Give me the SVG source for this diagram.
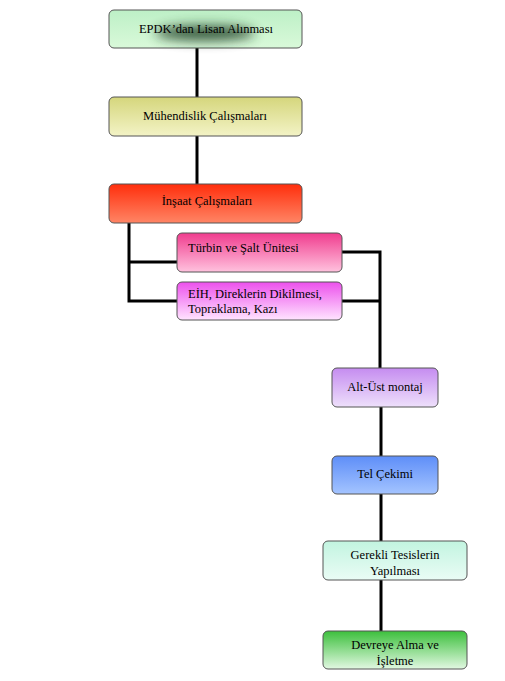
<svg xmlns="http://www.w3.org/2000/svg" width="505" height="681" viewBox="0 0 505 681">
<defs>
<linearGradient id="g1" x1="0" y1="0" x2="0" y2="1"><stop offset="0" stop-color="#bdf0c6"/><stop offset="1" stop-color="#d9f9d9"/></linearGradient>
<linearGradient id="g2" x1="0" y1="0" x2="0" y2="1"><stop offset="0" stop-color="#d5d67c"/><stop offset="1" stop-color="#f3f3c6"/></linearGradient>
<linearGradient id="g3" x1="0" y1="0" x2="0" y2="1"><stop offset="0" stop-color="#ff2e0c"/><stop offset="1" stop-color="#ff8565"/></linearGradient>
<linearGradient id="g4" x1="0" y1="0" x2="0" y2="1"><stop offset="0" stop-color="#f03c8e"/><stop offset="1" stop-color="#ffc2de"/></linearGradient>
<linearGradient id="g5" x1="0" y1="0" x2="0" y2="1"><stop offset="0" stop-color="#ec50ec"/><stop offset="1" stop-color="#ffe4ff"/></linearGradient>
<linearGradient id="g6" x1="0" y1="0" x2="0" y2="1"><stop offset="0" stop-color="#c58cf0"/><stop offset="1" stop-color="#eee0fb"/></linearGradient>
<linearGradient id="g7" x1="0" y1="0" x2="0" y2="1"><stop offset="0" stop-color="#5e8ef8"/><stop offset="1" stop-color="#a4c4ff"/></linearGradient>
<linearGradient id="g8" x1="0" y1="0" x2="0" y2="1"><stop offset="0" stop-color="#c2f4e0"/><stop offset="1" stop-color="#eafcf5"/></linearGradient>
<linearGradient id="g9" x1="0" y1="0" x2="0" y2="1"><stop offset="0" stop-color="#3cbf3c"/><stop offset="1" stop-color="#e2f8e2"/></linearGradient>
<filter id="blur" x="-50%" y="-100%" width="200%" height="300%"><feGaussianBlur stdDeviation="6"/></filter>
</defs>
<style>
.box{stroke:#555;stroke-width:1}
.t{font-family:"Liberation Serif","Times New Roman","DejaVu Serif",serif;font-size:12.5px;fill:#000}
.c{text-anchor:middle}
.conn{stroke:#000;stroke-width:3;fill:none}
</style>
<g id="connectors">
<path class="conn" d="M197,48 V97"/>
<path class="conn" d="M197,136 V185"/>
<path class="conn" d="M129,223 V301 H177"/>
<path class="conn" d="M129,262 H177"/>
<path class="conn" d="M342,252 H380 V368"/>
<path class="conn" d="M342,301 H380"/>
<path class="conn" d="M381,407 V456"/>
<path class="conn" d="M381,494 V541"/>
<path class="conn" d="M381,580 V631"/>
</g>
<g id="n1">
<rect class="box" x="109" y="10" width="193" height="38" rx="5" fill="url(#g1)"/>
<ellipse cx="205" cy="33" rx="50" ry="8" fill="#1a3a20" opacity="0.8" filter="url(#blur)"/>
<text class="t c" x="206" y="33">EPDK’dan Lisan Alınması</text>
</g>
<g id="n2">
<rect class="box" x="109" y="97" width="193" height="39" rx="5" fill="url(#g2)"/>
<text class="t c" x="205" y="120">Mühendislik Çalışmaları</text>
</g>
<g id="n3">
<rect class="box" x="109" y="184" width="193" height="39" rx="5" fill="url(#g3)"/>
<text class="t c" x="207" y="205">İnşaat Çalışmaları</text>
</g>
<g id="n4">
<rect class="box" x="177" y="233" width="165" height="39" rx="5" fill="url(#g4)"/>
<text class="t" x="188" y="252">Türbin ve Şalt Ünitesi</text>
</g>
<g id="n5">
<rect class="box" x="177" y="282" width="165" height="38" rx="5" fill="url(#g5)"/>
<text class="t" x="188" y="298">EİH, Direklerin Dikilmesi,</text>
<text class="t" x="188" y="313">Topraklama, Kazı</text>
</g>
<g id="n6">
<rect class="box" x="332" y="368" width="106" height="39" rx="5" fill="url(#g6)"/>
<text class="t c" x="385" y="391">Alt-Üst montaj</text>
</g>
<g id="n7">
<rect class="box" x="332" y="456" width="106" height="38" rx="5" fill="url(#g7)"/>
<text class="t c" x="385" y="478">Tel Çekimi</text>
</g>
<g id="n8">
<rect class="box" x="323" y="541" width="144" height="39" rx="5" fill="url(#g8)"/>
<text class="t c" x="395" y="559">Gerekli Tesislerin</text>
<text class="t c" x="395" y="575">Yapılması</text>
</g>
<g id="n9">
<rect class="box" x="323" y="631" width="144" height="38" rx="5" fill="url(#g9)"/>
<text class="t c" x="395" y="649">Devreye Alma ve</text>
<text class="t c" x="395" y="665">İşletme</text>
</g>
</svg>
